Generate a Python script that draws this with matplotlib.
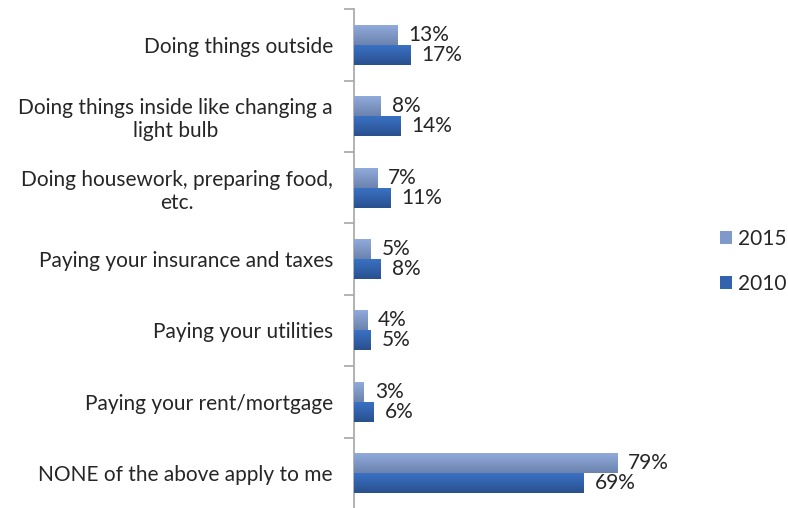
import numpy as np
import matplotlib
matplotlib.use("Agg")
import matplotlib.pyplot as plt
from matplotlib.colors import LinearSegmentedColormap
from matplotlib.patches import Patch

categories = [
    "Doing things outside",
    "Doing things inside like changing a\nlight bulb",
    "Doing housework, preparing food,\netc.",
    "Paying your insurance and taxes",
    "Paying your utilities",
    "Paying your rent/mortgage",
    "NONE of the above apply to me",
]
values_2015 = [13, 8, 7, 5, 4, 3, 79]
values_2010 = [17, 14, 11, 8, 5, 6, 69]
series_names = ["2015", "2010"]

plt.rcParams['font.family'] = ['Lato', 'DejaVu Sans']

fig = plt.figure(figsize=(7.88, 5.08), dpi=100)
ax = fig.add_axes([0.449, -0.002, 0.45, 0.984])

n = len(categories)
y = np.arange(n)
h = 0.28
grad = {
    "2015": ("#90AADB", "#6B83AD"),
    "2010": ("#3A71C4", "#29508E"),
}
solid = {"2015": "#7F99CA", "2010": "#3263AC"}

xmax = 106.5
FS = 15

for name, vals, off in [("2015", values_2015, -h / 2), ("2010", values_2010, h / 2)]:
    bars = ax.barh(y + off, vals, height=h, color=solid[name], edgecolor="none", zorder=2)
    cmap = LinearSegmentedColormap.from_list(name, [grad[name][0], grad[name][1]])
    g = np.linspace(0, 1, 64).reshape(-1, 1)
    for b, v, yy in zip(bars, vals, y + off):
        im = ax.imshow(g, cmap=cmap, aspect="auto", origin="upper",
                       extent=(0, v, yy + h / 2, yy - h / 2), zorder=3,
                       interpolation="bilinear")
        im.set_clip_path(b)
        ax.annotate(f"{v}%", xy=(v, yy), xytext=(8, 0), textcoords="offset points",
                    va="center", ha="left", fontsize=FS, color="#262626")

ax.set_xlim(0, xmax)
ax.set_ylim(n - 0.5, -0.5)

for s in ["top", "right", "bottom"]:
    ax.spines[s].set_visible(False)
ax.spines["left"].set_color("#A6A6A6")
ax.spines["left"].set_linewidth(1.2)
ax.set_xticks([])
ax.set_yticks(y)
ax.set_yticklabels(categories, fontsize=FS, color="#262626", linespacing=1.2)
for lbl in ax.get_yticklabels():
    lbl.set_multialignment("center")
ax.tick_params(axis="y", which="major", length=0, pad=15)
ax.set_yticks(np.arange(n + 1) - 0.5, minor=True)
ax.tick_params(axis="y", which="minor", length=7, color="#A6A6A6", width=1.2)

handles = [Patch(facecolor=solid["2015"], label="2015"),
           Patch(facecolor=solid["2010"], label="2010")]
fig.legend(handles=handles, loc="center left", bbox_to_anchor=(0.914, 0.486),
           frameon=False, fontsize=FS, handlelength=0.55, handleheight=0.55,
           handletextpad=0.3, labelspacing=1.2, labelcolor="#262626",
           borderpad=0, borderaxespad=0)

fig.savefig("out.png", dpi=100)
